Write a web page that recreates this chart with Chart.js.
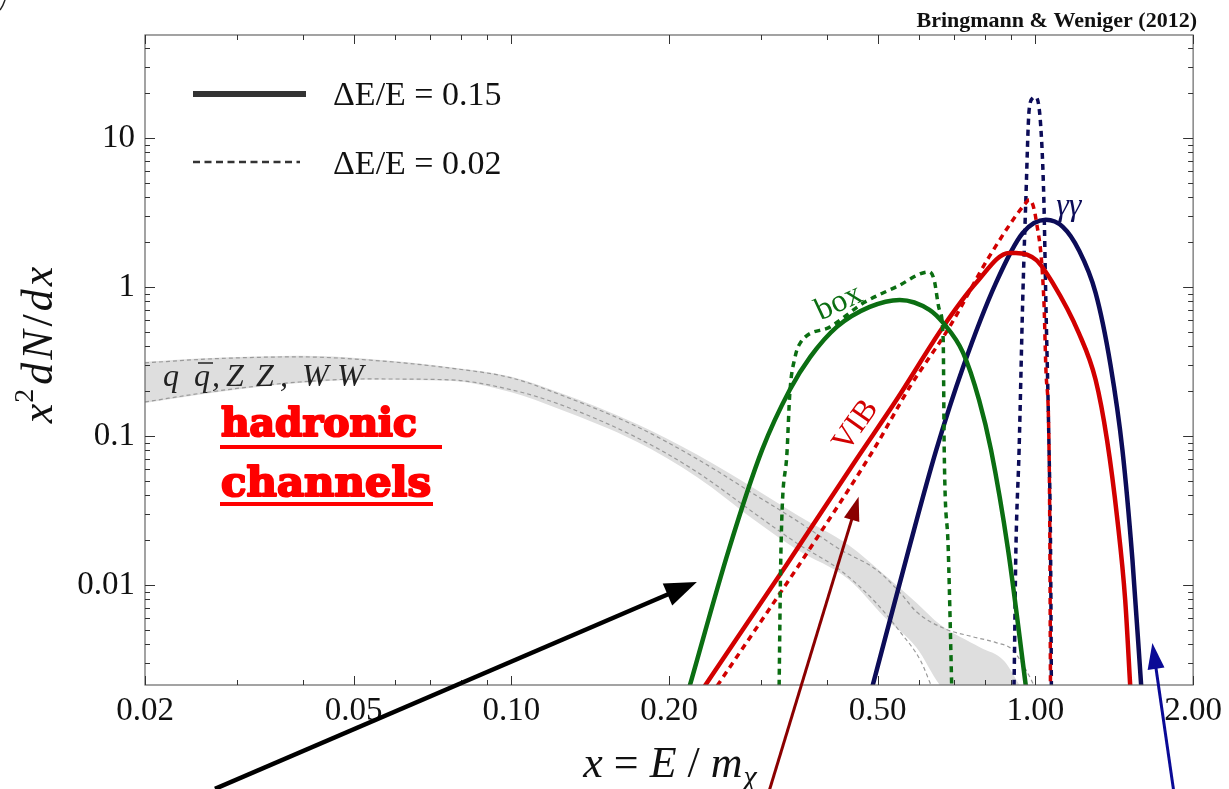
<!DOCTYPE html>
<html>
<head>
<meta charset="utf-8">
<script src="https://cdn.jsdelivr.net/npm/chart.js@4.4.0/dist/chart.umd.min.js"></script>
<style>
  html, body { margin: 0; padding: 0; background: #fff; }
  canvas { display: block; }
</style>
</head>
<body>
<canvas id="chart" width="1229" height="789"></canvas>
<script>
// axis ranges and ticks
const xMin = 0.02, xMax = 2;
const yMin = 0.00213, yMax = 49;
const xMajorTicks = [0.02, 0.05, 0.1, 0.2, 0.5, 1, 2];
const xTickLabels = ['0.02', '0.05', '0.10', '0.20', '0.50', '1.00', '2.00'];
const xMinorTicks = [0.03, 0.04, 0.06, 0.07, 0.08, 0.09, 0.3, 0.4, 0.6, 0.7, 0.8, 0.9];
const yMajorTicks = [0.01, 0.1, 1, 10];
const yTickLabels = ['0.01', '0.1', '1', '10'];

// hadronic band (q qbar, ZZ, WW)
const bandX     = [0.02, 0.0274, 0.0394, 0.0528, 0.0759, 0.1, 0.123, 0.174, 0.226, 0.294, 0.351, 0.44, 0.515, 0.593, 0.659, 0.785, 0.871, 0.935];
const bandUpper = [0.314, 0.334, 0.345, 0.330, 0.290, 0.249, 0.196, 0.1198, 0.0749, 0.0434, 0.0295, 0.0185, 0.0117, 0.0076, 0.0054, 0.0038, 0.0031, 0.0021];
const bandLower = [0.166, 0.196, 0.226, 0.238, 0.234, 0.196, 0.152, 0.0910, 0.0530, 0.0265, 0.0172, 0.0109, 0.0061, 0.0038, 0.0021, 0.0012, 0.0010, 0.0010];
const edgeAX = [0.02, 0.0274, 0.0394, 0.0528, 0.0759, 0.1, 0.123, 0.174, 0.226, 0.294, 0.351, 0.425, 0.498, 0.553, 0.593, 0.670, 0.757, 0.841, 0.902, 0.959, 1.002];
const edgeAY = [0.309, 0.330, 0.339, 0.324, 0.286, 0.245, 0.191, 0.115, 0.0701, 0.0396, 0.0269, 0.0172, 0.0126, 0.0088, 0.0066, 0.0051, 0.0045, 0.0041, 0.0037, 0.0027, 0.0020];
const edgeBX = [0.02, 0.0274, 0.0394, 0.0528, 0.0759, 0.1, 0.123, 0.174, 0.226, 0.294, 0.351, 0.425, 0.498, 0.553, 0.604, 0.633];
const edgeBY = [0.169, 0.200, 0.230, 0.241, 0.238, 0.204, 0.164, 0.097, 0.0573, 0.0295, 0.0190, 0.0125, 0.0075, 0.0048, 0.0031, 0.0021];

// box (green)
const boxWideX = [0.219, 0.260, 0.301, 0.340, 0.372, 0.418, 0.483, 0.551, 0.628, 0.667, 0.728, 0.781, 0.823, 0.887, 0.959];
const boxWideY = [0.0021, 0.0172, 0.0805, 0.204, 0.339, 0.539, 0.734, 0.818, 0.702, 0.573, 0.361, 0.174, 0.0805, 0.0172, 0.0021];
const boxNarrowX = [0.324, 0.327, 0.336, 0.340, 0.348, 0.356, 0.406, 0.470, 0.543, 0.628, 0.641, 0.656, 0.667, 0.670, 0.682, 0.694];
const boxNarrowY = [0.0015, 0.0172, 0.0805, 0.194, 0.339, 0.421, 0.539, 0.781, 1.0, 1.262, 1.114, 0.702, 0.441, 0.0805, 0.0172, 0.0015];

// VIB (red)
const vibWideX = [0.234, 0.333, 0.456, 0.543, 0.667, 0.771, 0.891, 0.918, 1.003, 1.079, 1.210, 1.303, 1.370, 1.434, 1.484, 1.517];
const vibWideY = [0.0021, 0.0132, 0.070, 0.174, 0.54, 1.064, 1.69, 1.69, 1.518, 1.064, 0.491, 0.238, 0.094, 0.0273, 0.0079, 0.0021];
const vibNarrowX = [0.247, 0.370, 0.491, 0.576, 0.686, 0.816, 0.959, 0.973, 1.003, 1.038, 1.047, 1.062, 1.066, 1.069];
const vibNarrowY = [0.0021, 0.0172, 0.0805, 0.213, 0.539, 1.59, 3.66, 3.84, 2.82, 0.818, 0.290, 0.0805, 0.0172, 0.0015];

// gamma gamma (navy)
const gamWideX = [0.489, 0.573, 0.647, 0.728, 0.841, 0.946, 1.047, 1.128, 1.210, 1.303, 1.391, 1.466, 1.532, 1.592];
const gamWideY = [0.0021, 0.0172, 0.0805, 0.290, 1.064, 2.30, 2.82, 2.53, 1.77, 0.912, 0.300, 0.0805, 0.0147, 0.0021];
const gamNarrowX = [0.908, 0.910, 0.918, 0.931, 0.946, 0.959, 0.973, 0.989, 1.002, 1.024, 1.038, 1.047, 1.062, 1.069, 1.073];
const gamNarrowY = [0.0015, 0.0019, 0.0172, 0.0805, 0.818, 3.84, 15.4, 18.5, 18.8, 11.9, 3.84, 0.818, 0.0805, 0.0172, 0.0019];

// annotation arrows, in data coordinates (tail, tip)
const arrows = [
  { from: [0.0272, 0.000428], to: [0.226, 0.01047], color: '#000000', w: 4.5, hl: 32, hw: 24 },
  { from: [0.306, 0.00035], to: [0.460, 0.039], color: '#8b0000', w: 3, hl: 24, hw: 16 },
  { from: [1.849, 0.00035], to: [1.672, 0.00408], color: '#0a0a96', w: 3, hl: 26, hw: 17 }
];

const GREEN = '#0b6e12', RED = '#d20000', NAVY = '#0c0c58';

function pts(xs, ys) { return xs.map((x, i) => ({ x: x, y: ys[i] })); }

function curve(xs, ys, color, dashed) {
  return {
    data: pts(xs, ys),
    borderColor: color,
    borderWidth: dashed ? 3.5 : 4.5,
    borderDash: dashed ? [6, 5] : [],
    pointRadius: 0,
    fill: false,
    tension: 0.4,
    cubicInterpolationMode: 'monotone',
    clip: 0,
    order: 1
  };
}

function grayEdge(xs, ys) {
  return {
    data: pts(xs, ys), borderColor: '#9a9a9a', borderWidth: 1.2, borderDash: [4, 3],
    pointRadius: 0, fill: false, tension: 0.4, cubicInterpolationMode: 'monotone', clip: 0, order: 5
  };
}

function labelFor(v, majors, labels) {
  for (let i = 0; i < majors.length; i++) {
    if (Math.abs(v - majors[i]) / majors[i] < 1e-6) return labels[i];
  }
  return '';
}

function richText(c, parts, x, y, align) {
  let w = 0;
  parts.forEach(p => { c.font = p.font; w += c.measureText(p.t).width + (p.gap || 0); });
  let cx = align === 'center' ? x - w / 2 : x;
  c.textAlign = 'left';
  parts.forEach(p => {
    c.font = p.font;
    c.fillText(p.t, cx, y + (p.dy || 0));
    cx += c.measureText(p.t).width + (p.gap || 0);
  });
}

const decor = {
  id: 'decor',
  afterDraw(chart) {
    const c = chart.ctx, a = chart.chartArea, xs = chart.scales.x, ys = chart.scales.y;
    c.save();

    // frame
    c.strokeStyle = '#666';
    c.lineWidth = 1.2;
    c.strokeRect(a.left, a.top, a.right - a.left, a.bottom - a.top);

    // inward ticks on all four sides
    c.strokeStyle = '#333';
    c.lineWidth = 1;
    const xt = (v, len) => {
      const p = Math.round(xs.getPixelForValue(v)) + 0.5;
      c.beginPath();
      c.moveTo(p, a.bottom); c.lineTo(p, a.bottom - len);
      c.moveTo(p, a.top); c.lineTo(p, a.top + len);
      c.stroke();
    };
    const yt = (v, len) => {
      const p = Math.round(ys.getPixelForValue(v)) + 0.5;
      c.beginPath();
      c.moveTo(a.left, p); c.lineTo(a.left + len, p);
      c.moveTo(a.right, p); c.lineTo(a.right - len, p);
      c.stroke();
    };
    xMajorTicks.forEach(v => xt(v, 9));
    xMinorTicks.forEach(v => xt(v, 5));
    yMajorTicks.forEach(v => yt(v, 10));
    for (let k = -3; k <= 1; k++) {
      for (let m = 2; m <= 9; m++) {
        const v = m * Math.pow(10, k);
        if (v > yMin && v < yMax) yt(v, 5);
      }
    }

    // small cropped stroke in the top-left corner
    c.strokeStyle = '#222';
    c.lineWidth = 1.5;
    c.beginPath(); c.moveTo(0, 10); c.quadraticCurveTo(3, 6, 5, 0); c.stroke();

    // top right credit
    c.fillStyle = '#111';
    c.font = 'bold 22px "Liberation Serif"';
    c.textAlign = 'right';
    c.textBaseline = 'alphabetic';
    c.fillText('Bringmann & Weniger (2012)', 1197, 27);

    // legend
    c.strokeStyle = '#333';
    c.lineWidth = 6;
    c.setLineDash([]);
    c.beginPath(); c.moveTo(193, 94); c.lineTo(306, 94); c.stroke();
    c.lineWidth = 2.5;
    c.setLineDash([7, 4.5]);
    c.beginPath(); c.moveTo(193, 162); c.lineTo(300, 162); c.stroke();
    c.setLineDash([]);
    c.fillStyle = '#111';
    c.font = '34px "Liberation Serif"';
    c.textAlign = 'left';
    c.fillText('\u0394E/E = 0.15', 333, 105);
    c.fillText('\u0394E/E = 0.02', 333, 174);

    // axis titles
    const it = (s) => 'italic ' + s + 'px "Liberation Serif"';
    c.fillStyle = '#111';
    c.save();
    c.translate(52, 345);
    c.rotate(-Math.PI / 2);
    richText(c, [
      { t: 'x', font: it(44), gap: 1 },
      { t: '2', font: '28px "Liberation Serif"', dy: -19, gap: 4 },
      { t: 'd', font: it(44), gap: 3 },
      { t: 'N', font: it(44), gap: 4 },
      { t: '/', font: '44px "Liberation Serif"', gap: 3 },
      { t: 'd', font: it(44), gap: 3 },
      { t: 'x', font: it(44) }
    ], 0, 0, 'center');
    c.restore();
    richText(c, [
      { t: 'x', font: it(44) },
      { t: ' = ', font: '44px "Liberation Serif"' },
      { t: 'E', font: it(44) },
      { t: ' / ', font: '44px "Liberation Serif"' },
      { t: 'm', font: it(44), gap: 1 },
      { t: '\u03C7', font: it(30), dy: 9 }
    ], 670, 777, 'center');

    // curve labels
    const at = (x, y) => [xs.getPixelForValue(x), ys.getPixelForValue(y)];
    let p = at(0.418, 0.78);
    c.save(); c.translate(p[0], p[1]); c.rotate(-25 * Math.PI / 180);
    c.fillStyle = GREEN; c.font = '32px "Liberation Serif"'; c.textAlign = 'center';
    c.fillText('box', 2, 9); c.restore();
    p = at(0.452, 0.1185);
    c.save(); c.translate(p[0], p[1]); c.rotate(-55 * Math.PI / 180);
    c.fillStyle = RED; c.font = '32px "Liberation Serif"'; c.textAlign = 'center';
    c.fillText('VIB', 0, 10); c.restore();
    p = at(1.158, 3.44);
    c.fillStyle = NAVY; c.font = it(32); c.textAlign = 'center';
    c.fillText('\u03B3\u03B3', p[0], p[1] + 8);

    // band label q qbar, ZZ, WW
    c.fillStyle = '#222';
    c.font = it(32);
    c.textAlign = 'left';
    const by = 386;
    const toks = [['q', 163], ['q', 194], [',', 212], ['Z', 226], ['Z', 256], [',', 280], ['W', 302], ['W', 337]];
    toks.forEach(t => c.fillText(t[0], t[1], by));
    c.lineWidth = 1.5; c.strokeStyle = '#222';
    c.beginPath(); c.moveTo(198, by - 23); c.lineTo(213, by - 23); c.stroke();

    // hadronic channels
    c.fillStyle = '#ff0000';
    c.strokeStyle = '#ff0000';
    c.lineWidth = 2.2;
    c.lineJoin = 'round';
    let fs = 40;
    c.font = 'bold ' + fs + 'px "DejaVu Serif"';
    fs = fs * 196 / c.measureText('hadronic').width;
    c.font = 'bold ' + fs + 'px "DejaVu Serif"';
    c.fillText('hadronic', 221, 436);
    c.strokeText('hadronic', 221, 436);
    let fs2 = fs * 210 / c.measureText('channels').width;
    c.font = 'bold ' + fs2 + 'px "DejaVu Serif"';
    c.fillText('channels', 221, 496);
    c.strokeText('channels', 221, 496);
    c.fillRect(220, 445, 222, 4);
    c.fillRect(220, 502, 213, 4);

    // arrows
    arrows.forEach(ar => {
      const t = at(ar.from[0], ar.from[1]);
      const h = at(ar.to[0], ar.to[1]);
      const ang = Math.atan2(h[1] - t[1], h[0] - t[0]);
      const bx = h[0] - ar.hl * Math.cos(ang), byy = h[1] - ar.hl * Math.sin(ang);
      c.strokeStyle = ar.color; c.fillStyle = ar.color; c.lineWidth = ar.w;
      c.beginPath(); c.moveTo(t[0], t[1]); c.lineTo(bx + 2 * Math.cos(ang), byy + 2 * Math.sin(ang)); c.stroke();
      c.beginPath();
      c.moveTo(h[0], h[1]);
      c.lineTo(bx + ar.hw / 2 * Math.sin(ang), byy - ar.hw / 2 * Math.cos(ang));
      c.lineTo(bx - ar.hw / 2 * Math.sin(ang), byy + ar.hw / 2 * Math.cos(ang));
      c.closePath(); c.fill();
    });

    c.restore();
  }
};

const ctx = document.getElementById('chart').getContext('2d');
new Chart(ctx, {
  type: 'line',
  data: {
    datasets: [
      { data: pts(bandX, bandUpper), borderWidth: 0, pointRadius: 0, fill: '+1', backgroundColor: '#dedede',
        tension: 0.4, cubicInterpolationMode: 'monotone', clip: 0, order: 10 },
      { data: pts(bandX, bandLower), borderWidth: 0, pointRadius: 0, fill: false,
        tension: 0.4, cubicInterpolationMode: 'monotone', clip: 0, order: 10 },
      grayEdge(edgeAX, edgeAY),
      grayEdge(edgeBX, edgeBY),
      curve(boxWideX, boxWideY, GREEN, false),
      curve(boxNarrowX, boxNarrowY, GREEN, true),
      curve(vibWideX, vibWideY, RED, false),
      curve(vibNarrowX, vibNarrowY, RED, true),
      curve(gamWideX, gamWideY, NAVY, false),
      curve(gamNarrowX, gamNarrowY, NAVY, true)
    ]
  },
  options: {
    responsive: false,
    animation: false,
    devicePixelRatio: 1,
    layout: { padding: { left: 0, right: 31, top: 35, bottom: 0 } },
    plugins: { legend: { display: false }, tooltip: { enabled: false } },
    scales: {
      x: {
        type: 'logarithmic',
        min: xMin, max: xMax,
        afterBuildTicks: s => { s.ticks = xMajorTicks.map(v => ({ value: v })); },
        afterFit: s => { s.height = 104; },
        grid: { display: false, drawTicks: false },
        border: { display: false },
        ticks: {
          autoSkip: false, maxRotation: 0, padding: 7, color: '#111',
          font: { family: 'Liberation Serif', size: 33 },
          callback: v => labelFor(v, xMajorTicks, xTickLabels)
        }
      },
      y: {
        type: 'logarithmic',
        min: yMin, max: yMax,
        afterBuildTicks: s => { s.ticks = yMajorTicks.map(v => ({ value: v })); },
        afterFit: s => { s.width = 145; },
        grid: { display: false, drawTicks: false },
        border: { display: false },
        ticks: {
          autoSkip: false, padding: 10, color: '#111',
          font: { family: 'Liberation Serif', size: 33 },
          callback: v => labelFor(v, yMajorTicks, yTickLabels)
        }
      }
    }
  },
  plugins: [decor]
});
</script>
</body>
</html>
